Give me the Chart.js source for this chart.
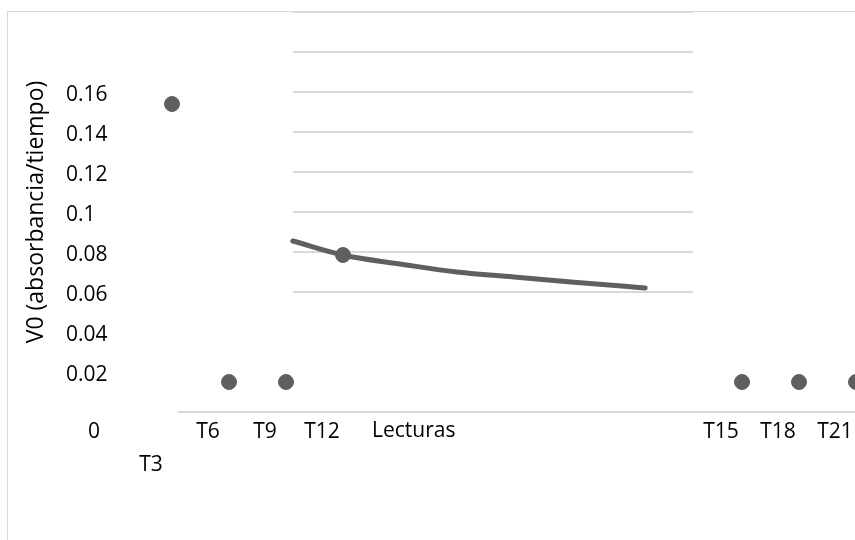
<!DOCTYPE html>
<html>
<head>
<meta charset="utf-8">
<script src="https://cdn.jsdelivr.net/npm/chart.js@4.4.1/dist/chart.umd.min.js"></script>
<style>
  html, body { margin: 0; padding: 0; background: #fff; }
  #wrap { width: 855px; height: 540px; }
</style>
</head>
<body>
<div id="wrap"><canvas id="grafica" width="855" height="540"></canvas></div>
<script>
// ── Datos ─────────────────────────────────────────────
const lecturas = ['T3', 'T6', 'T9', 'T12', 'T15', 'T18', 'T21'];
const posiciones = [0, 1, 2, 3, 10, 11, 12];      // hueco entre T12 y T15 como en el original
const v0 = [0.154, 0.015, 0.015, 0.0785, 0.015, 0.015, 0.015];

// linea de tendencia
const tendX = [2.12, 3, 4, 5, 6, 7, 8, 8.3];
const tendY = [0.0855, 0.0785, 0.074, 0.070, 0.0675, 0.065, 0.0628, 0.062];

// ticks
const yTicks = [0.02, 0.04, 0.06, 0.08, 0.1, 0.12, 0.14, 0.16];
const gridVals = [0.06, 0.08, 0.1, 0.12, 0.14, 0.16, 0.18, 0.2];
const xCero = -1;   // etiqueta "0" suelta en el eje x

const gris = '#5f5f5f';
const fuente = { family: 'Open Sans', size: 21 };

// ── Decoracion: marco, cuadricula interior, titulo x ──────
const decor = {
  id: 'decor',
  beforeDraw(chart) {
    const { ctx, scales: { x, y } } = chart;
    ctx.save();
    ctx.fillStyle = '#fff';
    ctx.fillRect(0, 0, chart.width, chart.height);
    ctx.strokeStyle = '#d9d9d9';
    ctx.lineWidth = 1;
    ctx.strokeRect(7.5, 11.5, chart.width, chart.height);
    const x0 = x.getPixelForValue(2.12), x1 = x.getPixelForValue(9.14);
    ctx.lineWidth = 2;
    gridVals.forEach(v => {
      const py = Math.round(y.getPixelForValue(v));
      ctx.beginPath();
      ctx.moveTo(x0, py);
      ctx.lineTo(x1, py);
      ctx.stroke();
    });
    ctx.restore();
  },
  afterDraw(chart) {
    const { ctx, scales: { x } } = chart;
    ctx.save();
    ctx.font = '21px "Open Sans"';
    ctx.fillStyle = '#000';
    ctx.textAlign = 'left';
    ctx.textBaseline = 'middle';
    ctx.fillText('Lecturas', x.getPixelForValue(3) + 29, 431);
    ctx.restore();
  }
};

new Chart(document.getElementById('grafica'), {
  type: 'scatter',
  data: {
    datasets: [
      {
        type: 'line',
        data: tendX.map((v, i) => ({ x: v, y: tendY[i] })),
        borderColor: gris,
        borderWidth: 5,
        pointRadius: 0,
        tension: 0.4,
        borderCapStyle: 'round',
        fill: false,
        clip: false
      },
      {
        data: posiciones.map((p, i) => ({ x: p, y: v0[i] })),
        backgroundColor: gris,
        borderColor: gris,
        pointRadius: 7.5,
        clip: false
      }
    ]
  },
  options: {
    responsive: false,
    animation: false,
    layout: { autoPadding: false, padding: { top: 12, left: 66, right: 0, bottom: 0 } },
    plugins: { legend: { display: false }, tooltip: { enabled: false } },
    scales: {
      x: {
        type: 'linear',
        min: 0.1228,
        max: 11.982,
        grid: { display: true, drawOnChartArea: false, drawTicks: false },
        border: { display: true, color: '#d9d9d9', width: 2 },
        afterBuildTicks: s => {
          s.ticks = [{ value: xCero }].concat(posiciones.map(p => ({ value: p })));
        },
        afterFit: s => { s.height = 128; s.paddingLeft = 0; s.paddingRight = 0; },
        ticks: {
          autoSkip: false,
          maxRotation: 0,
          padding: 3,
          labelOffset: -21,
          color: '#000',
          font: { family: 'Open Sans', size: 21, lineHeight: 1.6 },
          callback: v => {
            if (v === xCero) return '0';
            const i = posiciones.indexOf(v);
            if (i === 0) return ['', lecturas[0]];
            return i >= 0 ? lecturas[i] : '';
          }
        }
      },
      y: {
        min: 0,
        max: 0.2,
        grid: { display: false },
        border: { display: false },
        afterBuildTicks: s => { s.ticks = yTicks.map(v => ({ value: v })); },
        afterFit: s => { s.width = 113; s.paddingTop = 0; s.paddingBottom = 0; },
        ticks: {
          crossAlign: 'far',
          padding: 20,
          labelOffset: 3,
          color: '#000',
          font: fuente,
          callback: v => String(+v.toFixed(2))
        },
        title: {
          display: true,
          text: 'V0 (absorbancia/tiempo)',
          color: '#000',
          font: { family: 'Open Sans', size: 23 },
          padding: { top: -43, bottom: 0 }
        }
      }
    }
  },
  plugins: [decor]
});
</script>
</body>
</html>
